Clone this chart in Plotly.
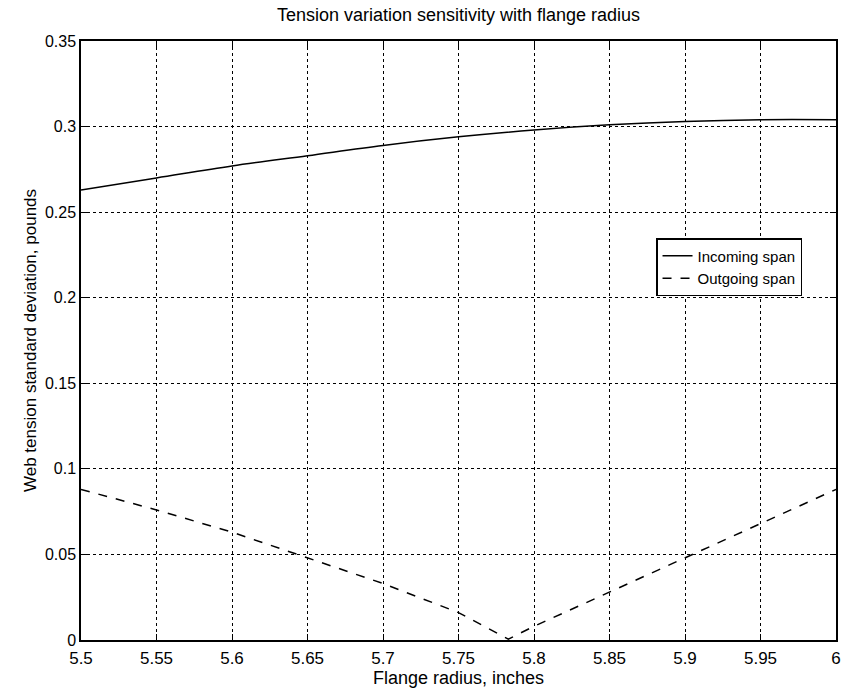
import plotly.graph_objects as go

radius_in = [5.5, 5.55, 5.6, 5.65, 5.7, 5.75, 5.8, 5.85, 5.9, 5.95, 6.0]
incoming = [0.263, 0.270, 0.277, 0.283, 0.289, 0.294, 0.298, 0.301, 0.303, 0.304, 0.304]

radius_out = [5.5, 5.55, 5.6, 5.65, 5.7, 5.75, 5.783, 5.8, 5.85, 5.9, 5.95, 6.0]
outgoing = [0.088, 0.076, 0.063, 0.048, 0.033, 0.016, 0.0005, 0.008, 0.028, 0.048, 0.068, 0.088]

font = "Liberation Sans, Arial, sans-serif"

fig = go.Figure()
fig.add_trace(go.Scatter(x=radius_in, y=incoming, mode="lines", name="Incoming span",
                         line=dict(color="black", width=1.5, shape="spline")))
fig.add_trace(go.Scatter(x=radius_out, y=outgoing, mode="lines", name="Outgoing span",
                         line=dict(color="black", width=1.5, dash="dash")))

axis_common = dict(showgrid=True, gridcolor="black", griddash="dot", gridwidth=1,
                   showline=True, linecolor="black", linewidth=1.5, mirror="allticks",
                   ticks="inside", ticklen=6, tickcolor="black", zeroline=False)

fig.update_layout(
    width=843, height=694,
    margin=dict(l=81, r=7, t=41, b=54, autoexpand=False),
    paper_bgcolor="white", plot_bgcolor="white",
    title=dict(text="Tension variation sensitivity with flange radius",
               x=0.5, xanchor="center", xref="paper", y=0.988, yanchor="top",
               font=dict(family=font, size=18, color="black")),
    xaxis=dict(range=[5.5, 6.0], dtick=0.05, tick0=5.5,
               tickfont=dict(family=font, size=17, color="black"),
               ticklabelstandoff=2,
               title=dict(text="Flange radius, inches", standoff=0,
                          font=dict(family=font, size=18, color="black")),
               **axis_common),
    yaxis=dict(range=[0, 0.35], dtick=0.05, tick0=0,
               tickfont=dict(family=font, size=16, color="black"),
               title=dict(text="Web tension standard deviation, pounds", standoff=4,
                          font=dict(family=font, size=17, color="black")),
               **axis_common),
    legend=dict(x=0.955, y=0.671, xanchor="right", yanchor="top",
                bgcolor="white", bordercolor="black", borderwidth=1.5,
                font=dict(family=font, size=15, color="black"),
                tracegroupgap=0, itemwidth=30),
    showlegend=True,
)

fig.write_html("out.html")
